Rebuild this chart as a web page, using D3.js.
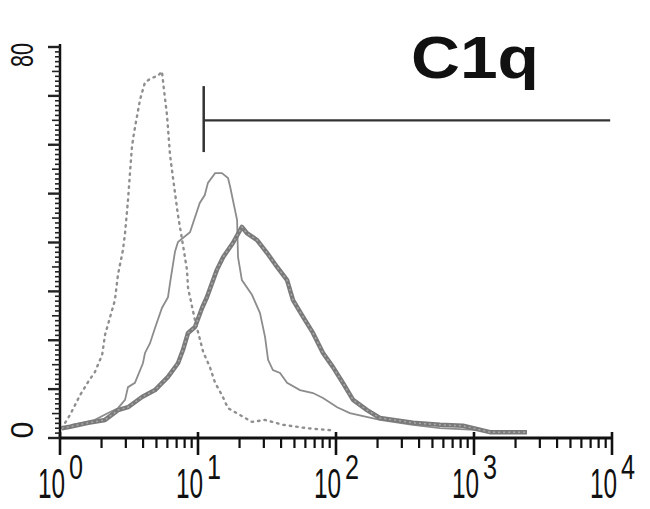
<!DOCTYPE html>
<html>
<head>
<meta charset="utf-8">
<script src="https://cdn.jsdelivr.net/npm/d3@7/dist/d3.min.js"></script>
<style>
  body { margin: 0; background: #fff; }
  svg { display: block; }
</style>
</head>
<body>
<div id="graph"></div>
<script>
// histogram values: [fluorescence, count]
var isotype = [[1.03,2.0],[1.18,4.7],[1.40,8.8],[1.60,11.5],[1.79,13.5],[2.02,17.0],[2.12,21.1],
  [2.30,24.6],[2.50,28.2],[2.63,33.4],[2.86,38.5],[2.96,41.9],[3.11,48.7],[3.23,55.0],[3.32,59.5],
  [3.44,62.5],[3.80,69.2],[4.13,72.8],[4.64,73.7],[5.13,74.1],[5.48,75.0],[5.67,71.2],[5.96,66.1],
  [6.27,57.9],[6.59,53.2],[7.16,45.6],[7.78,39.5],[8.32,34.4],[8.47,30.7],[9.51,24.1],[10.9,17.6],
  [12.2,14.5],[13.3,11.3],[14.9,8.8],[16.5,6.1],[20.2,4.7],[24.6,3.3],[30.6,3.7],[41.3,2.7],
  [61.7,2.0],[90.5,1.6]];

var unstained = [[1.22,2.7],[1.44,3.1],[1.79,3.7],[2.23,5.1],[2.63,6.1],[2.96,7.8],[3.11,10.4],
  [3.49,11.3],[3.99,15.3],[4.13,17.4],[4.49,19.4],[4.88,22.5],[5.48,26.6],[6.06,28.8],[6.27,31.7],
  [6.81,38.1],[7.16,40.1],[8.75,42.1],[10.3,48.1],[11.2,49.7],[11.8,52.2],[13.3,54.2],[14.9,54.2],
  [16.5,53.2],[17.1,51.4],[17.9,48.7],[19.2,44.6],[19.5,37.0],[20.8,32.3],[24.6,29.3],[28.1,25.6],
  [30.6,20.7],[32.2,16.0],[34.9,13.9],[39.3,13.3],[44.2,11.3],[54.8,9.8],[68.1,9.2],[80.5,8.2],
  [102,6.3],[126,5.1],[208,3.7],[361,2.7],[567,2.0],[1105,1.6]];

var c1q = [[1.03,2.0],[1.18,2.3],[1.60,3.1],[2.12,3.7],[2.63,5.7],[3.11,6.3],[3.93,8.4],[4.88,9.8],
  [6.06,12.5],[7.16,15.3],[7.78,18.0],[8.47,21.5],[9.51,22.7],[10.7,26.6],[11.6,28.8],[13.7,34.4],
  [15.2,37.0],[17.9,39.9],[20.8,43.2],[22.6,41.9],[26.8,40.5],[31.6,37.9],[37.4,35.0],[44.2,32.3],
  [48.8,28.2],[57.7,24.8],[68.1,21.5],[80.5,17.4],[95.1,14.5],[112,11.3],[133,7.8],[168,5.7],
  [208,4.1],[361,3.1],[567,2.7],[832,2.5],[1306,1.2],[2420,1.2]];

var xDecades = [1, 10, 100, 1000, 10000];
var xExponents = ["0", "1", "2", "3", "4"];
var yLabels = [0, 80];
var title = "C1q";

// marker gate
var gateRange = [11, 9700];
var gateLevel = 65;
var gateCap = [58.5, 72];

var width = 650, height = 509;
var x = d3.scaleLog().domain([1, 10000]).range([60, 612]);
var y = d3.scaleLinear().domain([0, 80]).range([438, 47]);

var svg = d3.select("#graph").append("svg")
    .attr("width", width)
    .attr("height", height);

// curves
var line = d3.line()
    .x(function(d) { return x(d[0]); })
    .y(function(d) { return y(d[1]); });

svg.append("path")
    .datum(isotype)
    .attr("d", line)
    .attr("fill", "none")
    .attr("stroke", "#8f8f8f")
    .attr("stroke-width", 2.4)
    .attr("stroke-linecap", "round")
    .attr("stroke-dasharray", "1.5,5");

svg.append("path")
    .datum(unstained)
    .attr("d", line)
    .attr("fill", "none")
    .attr("stroke", "#8c8c8c")
    .attr("stroke-width", 1.8);

svg.append("path")
    .datum(c1q)
    .attr("d", line)
    .attr("fill", "none")
    .attr("stroke", "#7a7a7a")
    .attr("stroke-width", 4.5)
    .attr("stroke-linejoin", "round");

svg.append("path")
    .datum(c1q)
    .attr("d", line)
    .attr("fill", "none")
    .attr("stroke", "#a8a8a8")
    .attr("stroke-width", 1.5)
    .attr("stroke-dasharray", "2,3");

// gate marker
svg.append("line")
    .attr("x1", x(gateRange[0])).attr("x2", x(gateRange[0]))
    .attr("y1", y(gateCap[0])).attr("y2", y(gateCap[1]))
    .attr("stroke", "#333").attr("stroke-width", 2.5);
svg.append("line")
    .attr("x1", x(gateRange[0])).attr("x2", x(gateRange[1]))
    .attr("y1", y(gateLevel)).attr("y2", y(gateLevel))
    .attr("stroke", "#333").attr("stroke-width", 2.2);

// X axis
var xAxis = svg.append("g")
    .attr("transform", "translate(0," + y(0) + ")");
var minor = [];
xDecades.slice(0, -1).forEach(function(d) {
  for (var k = 2; k <= 9; k++) minor.push(d * k);
});
xAxis.append("line")
    .attr("x1", x(1) - 1).attr("x2", x(10000) + 1)
    .attr("stroke", "#111").attr("stroke-width", 3);
xAxis.selectAll(".minor").data(minor).enter().append("line")
    .attr("x1", function(d) { return x(d); }).attr("x2", function(d) { return x(d); })
    .attr("y1", 0).attr("y2", 10)
    .attr("stroke", "#111").attr("stroke-width", 2.2);
xAxis.selectAll(".major").data(xDecades).enter().append("line")
    .attr("x1", function(d) { return x(d); }).attr("x2", function(d) { return x(d); })
    .attr("y1", -6).attr("y2", 17)
    .attr("stroke", "#111").attr("stroke-width", 2.6);

// labels are a narrow face: squeeze them horizontally
var xlab = xAxis.selectAll(".xlab").data(xDecades).enter().append("g")
    .attr("transform", function(d) { return "translate(" + x(d) + ",0)"; });
xlab.append("text")
    .attr("transform", "translate(5,60) scale(0.58,1)")
    .attr("text-anchor", "end")
    .attr("font-family", "Liberation Sans, Arial, sans-serif")
    .attr("font-size", 42)
    .attr("fill", "#111")
    .text("10");
xlab.append("text")
    .attr("transform", "translate(9,41) scale(0.7,1)")
    .attr("font-family", "Liberation Sans, Arial, sans-serif")
    .attr("font-size", 36)
    .attr("fill", "#111")
    .text(function(d, i) { return xExponents[i]; });

// Y axis
var yAxis = svg.append("g")
    .attr("transform", "translate(" + x(1) + ",0)");
yAxis.append("line")
    .attr("y1", y(80) - 3).attr("y2", y(0))
    .attr("stroke", "#111").attr("stroke-width", 2.5);
yAxis.selectAll(".ytick").data(d3.range(0, 81, 1)).enter().append("line")
    .attr("x1", function(d) { return d % 10 === 0 ? -12 : (d % 5 === 0 ? -8 : -5); })
    .attr("x2", 0)
    .attr("y1", function(d) { return y(d); }).attr("y2", function(d) { return y(d); })
    .attr("stroke", "#222")
    .attr("stroke-width", function(d) { return d % 10 === 0 ? 2.4 : 1.6; });
yAxis.selectAll(".ylab").data(yLabels).enter().append("text")
    .attr("transform", function(d) {
      var cy = y(d) + (d === 0 ? -8 : 8);
      return "translate(" + (33 - x(1)) + "," + cy + ") rotate(-90)";
    })
    .attr("text-anchor", "middle")
    .attr("font-family", "Liberation Sans, Arial, sans-serif")
    .attr("font-size", 32)
    .attr("textLength", function(d) { return d === 0 ? 17 : 24; })
    .attr("lengthAdjust", "spacingAndGlyphs")
    .attr("fill", "#111")
    .text(function(d) { return d; });

// title
svg.append("text")
    .attr("x", 411)
    .attr("y", 78)
    .attr("font-family", "Liberation Sans, Arial, sans-serif")
    .attr("font-weight", "bold")
    .attr("font-size", 60)
    .attr("textLength", 128)
    .attr("lengthAdjust", "spacingAndGlyphs")
    .attr("fill", "#111")
    .text(title);
</script>
</body>
</html>
